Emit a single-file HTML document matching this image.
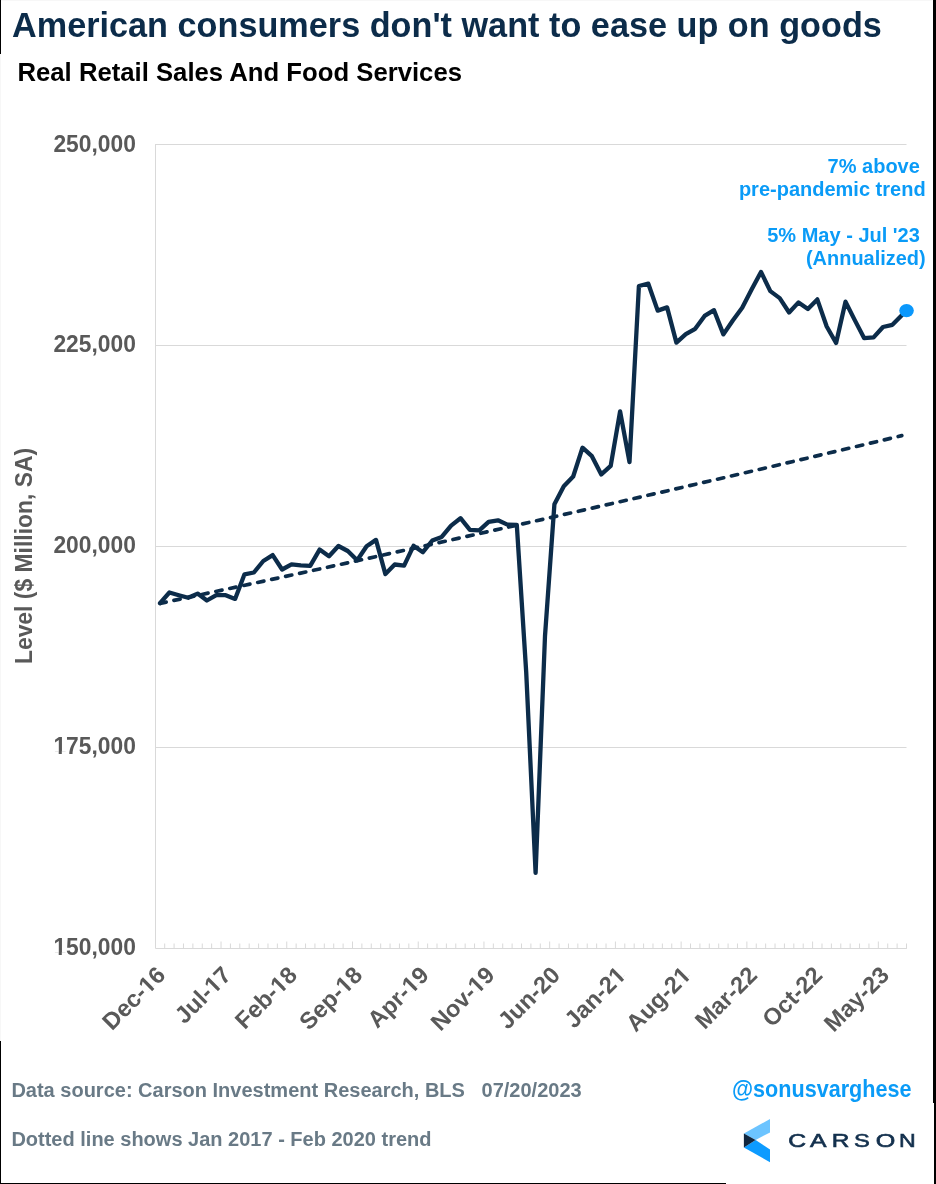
<!DOCTYPE html>
<html><head><meta charset="utf-8"><style>
html,body{margin:0;padding:0;background:#fff;}
.one{display:inline-block;clip-path:polygon(-1em -1em,2em -1em,2em 0.69em,0.3675em 0.69em,0.3675em 2em,0.2325em 2em,0.2325em 0.69em,-1em 0.69em);}
body{width:936px;height:1184px;position:relative;overflow:hidden;font-family:"Liberation Sans",sans-serif;}
</style></head><body>
<svg width="936" height="1184" style="position:absolute;left:0;top:0;will-change:transform">
<g stroke="#d9d9d9" stroke-width="1" fill="none"><line x1="155.5" y1="144.5" x2="906.5" y2="144.5"/><line x1="155.5" y1="345.5" x2="906.5" y2="345.5"/><line x1="155.5" y1="546.5" x2="906.5" y2="546.5"/><line x1="155.5" y1="747.5" x2="906.5" y2="747.5"/>
<path d="M155.5,144 V948.5 H906.8"/>
<path d="M164.69,948.5 V943.5 M174.08,948.5 V943.5 M183.47,948.5 V943.5 M192.86,948.5 V943.5 M202.25,948.5 V943.5 M211.64,948.5 V943.5 M221.03,948.5 V941.5 M230.42,948.5 V943.5 M239.81,948.5 V943.5 M249.20,948.5 V943.5 M258.59,948.5 V943.5 M267.98,948.5 V943.5 M277.37,948.5 V943.5 M286.76,948.5 V941.5 M296.15,948.5 V943.5 M305.54,948.5 V943.5 M314.93,948.5 V943.5 M324.32,948.5 V943.5 M333.71,948.5 V943.5 M343.10,948.5 V943.5 M352.49,948.5 V941.5 M361.88,948.5 V943.5 M371.27,948.5 V943.5 M380.66,948.5 V943.5 M390.05,948.5 V943.5 M399.44,948.5 V943.5 M408.83,948.5 V943.5 M418.22,948.5 V941.5 M427.61,948.5 V943.5 M437.00,948.5 V943.5 M446.39,948.5 V943.5 M455.78,948.5 V943.5 M465.17,948.5 V943.5 M474.56,948.5 V943.5 M483.95,948.5 V941.5 M493.34,948.5 V943.5 M502.73,948.5 V943.5 M512.12,948.5 V943.5 M521.51,948.5 V943.5 M530.90,948.5 V943.5 M540.29,948.5 V943.5 M549.68,948.5 V941.5 M559.07,948.5 V943.5 M568.46,948.5 V943.5 M577.85,948.5 V943.5 M587.24,948.5 V943.5 M596.63,948.5 V943.5 M606.02,948.5 V943.5 M615.41,948.5 V941.5 M624.80,948.5 V943.5 M634.19,948.5 V943.5 M643.58,948.5 V943.5 M652.97,948.5 V943.5 M662.36,948.5 V943.5 M671.75,948.5 V943.5 M681.14,948.5 V941.5 M690.53,948.5 V943.5 M699.92,948.5 V943.5 M709.31,948.5 V943.5 M718.70,948.5 V943.5 M728.09,948.5 V943.5 M737.48,948.5 V943.5 M746.87,948.5 V941.5 M756.26,948.5 V943.5 M765.65,948.5 V943.5 M775.04,948.5 V943.5 M784.43,948.5 V943.5 M793.82,948.5 V943.5 M803.21,948.5 V943.5 M812.60,948.5 V941.5 M821.99,948.5 V943.5 M831.38,948.5 V943.5 M840.77,948.5 V943.5 M850.16,948.5 V943.5 M859.55,948.5 V943.5 M868.94,948.5 V943.5 M878.33,948.5 V941.5 M887.72,948.5 V943.5 M897.11,948.5 V943.5 M906.50,948.5 V943.5"/>
</g>
<path d="M160,603.39 Q530.9,524.51 901.8,435.66" stroke="#0c2c4a" stroke-width="3.7" stroke-dasharray="6.3 7.98" stroke-linecap="round" fill="none"/>
<path d="M160.0,603.2 L169.4,592.5 L178.8,595.2 L188.2,597.8 L197.6,593.6 L206.9,600.5 L216.3,595.2 L225.7,595.2 L235.1,598.9 L244.5,574.3 L253.9,572.5 L263.3,561.0 L272.7,555.1 L282.1,569.5 L291.5,564.4 L300.8,565.3 L310.2,565.8 L319.6,549.6 L329.0,556.2 L338.4,546.0 L347.8,551.0 L357.2,560.2 L366.6,546.3 L376.0,539.9 L385.4,574.1 L394.7,564.5 L404.1,565.6 L413.5,545.8 L422.9,552.2 L432.3,540.5 L441.7,536.9 L451.1,525.6 L460.5,518.2 L469.9,529.9 L479.3,530.4 L488.6,521.9 L498.0,520.3 L507.4,524.6 L516.8,524.8 L526.2,672.0 L535.6,872.8 L545.0,636.0 L554.4,504.3 L563.8,486.2 L573.2,476.5 L582.5,447.7 L591.9,456.2 L601.3,474.4 L610.7,465.9 L620.1,411.4 L629.5,462.1 L638.9,286.0 L648.3,283.7 L657.7,310.6 L667.1,307.4 L676.4,342.6 L685.8,334.1 L695.2,328.8 L704.6,315.9 L714.0,310.2 L723.4,334.4 L732.8,320.5 L742.2,307.7 L751.6,289.5 L761.0,271.9 L770.3,291.1 L779.7,298.1 L789.1,312.5 L798.5,302.4 L807.9,309.0 L817.3,299.4 L826.7,326.5 L836.1,343.0 L845.5,301.7 L854.9,320.4 L864.2,338.2 L873.6,337.4 L883.0,327.0 L892.4,324.8 L901.8,315.3" stroke="#0c2c4a" stroke-width="4.3" stroke-linejoin="round" stroke-linecap="round" fill="none"/>
<ellipse cx="906.55" cy="310.55" rx="7.3" ry="6.6" fill="#0b98fc"/>
<g>
<polygon points="743.9,1133.5 770,1119 770,1132.4 755.6,1139.9" fill="#6cc4ff"/>
<polygon points="743.9,1147.4 755.6,1139.9 770,1149.5 770,1162.3" fill="#0d9bff"/>
<polygon points="743.9,1133.5 755.6,1139.9 743.9,1147.4" fill="#10263f"/>
</g>
<g transform="translate(797.2,1147.4) scale(1.36,1)"><text x="0" y="0" text-anchor="middle" font-family="Liberation Sans" font-size="18.2" fill="#13304d" stroke="#13304d" stroke-width="0.6">C</text></g><g transform="translate(818.2,1147.4) scale(1.36,1)"><text x="0" y="0" text-anchor="middle" font-family="Liberation Sans" font-size="18.2" fill="#13304d" stroke="#13304d" stroke-width="0.6">A</text></g><g transform="translate(840.6,1147.4) scale(1.34,1)"><text x="0" y="0" text-anchor="middle" font-family="Liberation Sans" font-size="18.2" fill="#13304d" stroke="#13304d" stroke-width="0.6">R</text></g><g transform="translate(861.9,1147.4) scale(1.3,1)"><text x="0" y="0" text-anchor="middle" font-family="Liberation Sans" font-size="18.2" fill="#13304d" stroke="#13304d" stroke-width="0.6">S</text></g><g transform="translate(885.5,1147.4) scale(1.38,1)"><text x="0" y="0" text-anchor="middle" font-family="Liberation Sans" font-size="18.2" fill="#13304d" stroke="#13304d" stroke-width="0.6">O</text></g><g transform="translate(907.4,1147.4) scale(1.27,1)"><text x="0" y="0" text-anchor="middle" font-family="Liberation Sans" font-size="18.2" fill="#13304d" stroke="#13304d" stroke-width="0.6">N</text></g>
<rect x="0" y="0" width="932" height="1" fill="#f7f7f7"/>
<rect x="0" y="54" width="1" height="987" fill="#f7f7f7"/>
<rect x="0" y="0" width="1" height="54" fill="#000"/>
<rect x="0" y="1041" width="1" height="143" fill="#000"/>
<rect x="0" y="1183" width="726" height="1" fill="#000"/>
<rect x="933" y="0" width="3" height="1103" fill="#000"/>
<rect x="934" y="1103" width="2" height="81" fill="#000"/>
</svg>
<div style="position:absolute;left:0;top:0;width:936px;height:1184px;will-change:transform;"><div style="position:absolute;left:12px;top:8.05px;font-size:34.2px;line-height:34.2px;color:#0c2c4a;font-weight:bold;white-space:pre;letter-spacing:0.025px;">American consumers don't want to ease up on goods</div><div style="position:absolute;left:17.5px;top:60.24px;font-size:25.7px;line-height:25.7px;color:#000;font-weight:bold;white-space:pre;">Real Retail Sales And Food Services</div><div style="position:absolute;right:800.4px;top:132.56px;font-size:23.2px;line-height:23.2px;color:#595959;font-weight:bold;white-space:pre;text-align:right;transform:scaleX(0.983);transform-origin:100% 0;">250,000</div><div style="position:absolute;right:800.4px;top:333.46px;font-size:23.2px;line-height:23.2px;color:#595959;font-weight:bold;white-space:pre;text-align:right;transform:scaleX(0.983);transform-origin:100% 0;">225,000</div><div style="position:absolute;right:800.4px;top:534.36px;font-size:23.2px;line-height:23.2px;color:#595959;font-weight:bold;white-space:pre;text-align:right;transform:scaleX(0.983);transform-origin:100% 0;">200,000</div><div style="position:absolute;right:800.4px;top:735.26px;font-size:23.2px;line-height:23.2px;color:#595959;font-weight:bold;white-space:pre;text-align:right;transform:scaleX(0.983);transform-origin:100% 0;"><span class="one">1</span>75,000</div><div style="position:absolute;right:800.4px;top:936.16px;font-size:23.2px;line-height:23.2px;color:#595959;font-weight:bold;white-space:pre;text-align:right;transform:scaleX(0.983);transform-origin:100% 0;"><span class="one">1</span>50,000</div><div style="position:absolute;left:24.6px;top:556.1px;width:0;height:0;"><div style="position:absolute;left:0;top:0;transform:translate(-50%,-50%) rotate(-90deg) scaleX(0.982);font-size:23.3px;line-height:23.3px;color:#595959;font-weight:bold;white-space:pre;">Level ($ Million, SA)</div></div><div style="position:absolute;left:153.6px;top:962.6px;width:0;height:0;"><div style="position:absolute;right:0;top:0;transform-origin:100% 0;transform:rotate(-45deg);font-size:23.6px;line-height:23.6px;color:#595959;font-weight:bold;white-space:pre;">Dec-<span class="one">1</span>6</div></div><div style="position:absolute;left:219.3px;top:962.6px;width:0;height:0;"><div style="position:absolute;right:0;top:0;transform-origin:100% 0;transform:rotate(-45deg);font-size:23.6px;line-height:23.6px;color:#595959;font-weight:bold;white-space:pre;">Jul-<span class="one">1</span>7</div></div><div style="position:absolute;left:285.1px;top:962.6px;width:0;height:0;"><div style="position:absolute;right:0;top:0;transform-origin:100% 0;transform:rotate(-45deg);font-size:23.6px;line-height:23.6px;color:#595959;font-weight:bold;white-space:pre;">Feb-<span class="one">1</span>8</div></div><div style="position:absolute;left:350.8px;top:962.6px;width:0;height:0;"><div style="position:absolute;right:0;top:0;transform-origin:100% 0;transform:rotate(-45deg);font-size:23.6px;line-height:23.6px;color:#595959;font-weight:bold;white-space:pre;">Sep-<span class="one">1</span>8</div></div><div style="position:absolute;left:416.5px;top:962.6px;width:0;height:0;"><div style="position:absolute;right:0;top:0;transform-origin:100% 0;transform:rotate(-45deg);font-size:23.6px;line-height:23.6px;color:#595959;font-weight:bold;white-space:pre;">Apr-<span class="one">1</span>9</div></div><div style="position:absolute;left:482.2px;top:962.6px;width:0;height:0;"><div style="position:absolute;right:0;top:0;transform-origin:100% 0;transform:rotate(-45deg);font-size:23.6px;line-height:23.6px;color:#595959;font-weight:bold;white-space:pre;">Nov-<span class="one">1</span>9</div></div><div style="position:absolute;left:548.0px;top:962.6px;width:0;height:0;"><div style="position:absolute;right:0;top:0;transform-origin:100% 0;transform:rotate(-45deg);font-size:23.6px;line-height:23.6px;color:#595959;font-weight:bold;white-space:pre;">Jun-20</div></div><div style="position:absolute;left:613.7px;top:962.6px;width:0;height:0;"><div style="position:absolute;right:0;top:0;transform-origin:100% 0;transform:rotate(-45deg);font-size:23.6px;line-height:23.6px;color:#595959;font-weight:bold;white-space:pre;">Jan-2<span class="one">1</span></div></div><div style="position:absolute;left:679.4px;top:962.6px;width:0;height:0;"><div style="position:absolute;right:0;top:0;transform-origin:100% 0;transform:rotate(-45deg);font-size:23.6px;line-height:23.6px;color:#595959;font-weight:bold;white-space:pre;">Aug-2<span class="one">1</span></div></div><div style="position:absolute;left:745.2px;top:962.6px;width:0;height:0;"><div style="position:absolute;right:0;top:0;transform-origin:100% 0;transform:rotate(-45deg);font-size:23.6px;line-height:23.6px;color:#595959;font-weight:bold;white-space:pre;">Mar-22</div></div><div style="position:absolute;left:810.9px;top:962.6px;width:0;height:0;"><div style="position:absolute;right:0;top:0;transform-origin:100% 0;transform:rotate(-45deg);font-size:23.6px;line-height:23.6px;color:#595959;font-weight:bold;white-space:pre;">Oct-22</div></div><div style="position:absolute;left:876.6px;top:962.6px;width:0;height:0;"><div style="position:absolute;right:0;top:0;transform-origin:100% 0;transform:rotate(-45deg);font-size:23.6px;line-height:23.6px;color:#595959;font-weight:bold;white-space:pre;">May-23</div></div><div style="position:absolute;right:10.600000000000023px;top:156.07px;font-size:20px;line-height:20px;color:#0a9bf7;font-weight:bold;white-space:pre;text-align:right;">7% above </div><div style="position:absolute;right:10.399999999999977px;top:178.67px;font-size:20px;line-height:20px;color:#0a9bf7;font-weight:bold;white-space:pre;text-align:right;">pre-pandemic trend</div><div style="position:absolute;right:10.600000000000023px;top:225.37px;font-size:20px;line-height:20px;color:#0a9bf7;font-weight:bold;white-space:pre;text-align:right;">5% May - Jul '23 </div><div style="position:absolute;right:10.399999999999977px;top:249.11px;font-size:19.95px;line-height:19.95px;color:#0a9bf7;font-weight:bold;white-space:pre;text-align:right;">(Annualized)</div><div style="position:absolute;left:11.4px;top:1080.07px;font-size:20px;line-height:20px;color:#697a86;font-weight:bold;white-space:pre;">Data source: Carson Investment Research, BLS   07/20/2023</div><div style="position:absolute;left:11.4px;top:1128.57px;font-size:20px;line-height:20px;color:#697a86;font-weight:bold;white-space:pre;">Dotted line shows Jan 2017 - Feb 2020 trend</div><div style="position:absolute;left:731.5px;top:1077.08px;font-size:24px;line-height:24px;color:#0a9bf7;font-weight:bold;white-space:pre;transform:scaleX(0.9);transform-origin:0 0;">@sonusvarghese</div></div>
</body></html>
